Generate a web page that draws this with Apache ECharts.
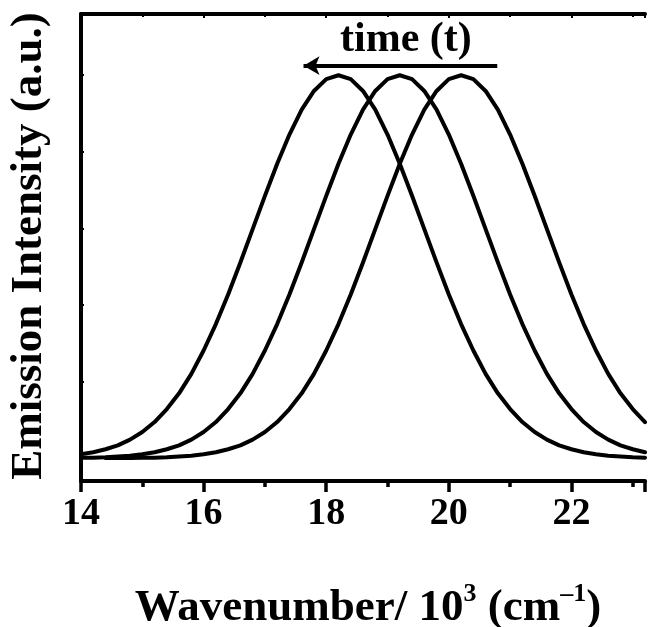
<!DOCTYPE html>
<html>
<head>
<meta charset="utf-8">
<script src="https://cdn.jsdelivr.net/npm/echarts@6/dist/echarts.min.js"></script>
<style>html,body{margin:0;padding:0;background:#fff}#c{width:648px;height:627px}</style>
</head>
<body>
<div id="c"></div>
<script>
// Wavenumber (10^3 cm^-1)
const xValues = [14.0,14.2,14.4,14.6,14.8,15.0,15.2,15.4,15.6,15.8,16.0,16.2,16.4,16.6,16.8,17.0,17.2,17.4,17.6,17.8,18.0,18.2,18.4,18.6,18.8,19.0,19.2,19.4,19.6,19.8,20.0,20.2,20.4,20.6,20.8,21.0,21.2,21.4,21.6,21.8,22.0,22.2,22.4,22.6,22.8,23.0,23.2];
// Emission intensity (a.u.) of the three spectra (peak shifts to lower wavenumber with time)
const spectrumLate = [0.010,0.015,0.023,0.033,0.048,0.068,0.094,0.128,0.169,0.220,0.281,0.350,0.427,0.511,0.598,0.685,0.769,0.845,0.910,0.959,0.990,1.000,0.990,0.959,0.910,0.845,0.769,0.685,0.598,0.511,0.427,0.350,0.281,0.220,0.169,0.128,0.094,0.068,0.048,0.033,0.023,0.015,0.010,0.006,0.004,0.002,0.001];
const spectrumMid = [0.001,0.001,0.002,0.004,0.006,0.010,0.015,0.023,0.033,0.048,0.068,0.094,0.128,0.169,0.220,0.281,0.350,0.427,0.511,0.598,0.685,0.769,0.845,0.910,0.959,0.990,1.000,0.990,0.959,0.910,0.845,0.769,0.685,0.598,0.511,0.427,0.350,0.281,0.220,0.169,0.128,0.094,0.068,0.048,0.033,0.023,0.015];
const spectrumEarly = [null,null,0.000,0.000,0.000,0.001,0.001,0.002,0.004,0.006,0.010,0.015,0.023,0.033,0.048,0.068,0.094,0.128,0.169,0.220,0.281,0.350,0.427,0.511,0.598,0.685,0.769,0.845,0.910,0.959,0.990,1.000,0.990,0.959,0.910,0.845,0.769,0.685,0.598,0.511,0.427,0.350,0.281,0.220,0.169,0.128,0.094];
const xTickLabels = [14,16,18,20,22];
// annotation arrow (data coords): from right to left
const arrowFrom = [20.79, 1.025];
const arrowTo = [17.63, 1.025];

const FONT = '"Liberation Serif", "Times New Roman", serif';
const zip = (xs, ys) => xs.map((x, i) => [x, ys[i]]);

const chart = echarts.init(document.getElementById('c'), null, {renderer: 'canvas'});
const lineStyle = {color: '#000', width: 4, join: 'round', cap: 'round'};
const mkSeries = (data) => ({
  type: 'line', data: data, showSymbol: false, symbol: 'none', smooth: false,
  connectNulls: false, lineStyle: lineStyle, silent: true, z: 3
});
const s0 = mkSeries(zip(xValues, spectrumLate));
s0.markLine = {
  silent: true, symbol: ['none', 'arrow'], symbolSize: [14, 16],
  lineStyle: {color: '#000', width: 4, type: 'solid'},
  label: {show: false},
  data: [[{coord: arrowFrom}, {coord: arrowTo}]]
};

chart.setOption({
  animation: false,
  backgroundColor: '#fff',
  grid: {left: 81, top: 14, right: -4, bottom: 146, containLabel: false},
  xAxis: [{
    type: 'value', min: 14, max: 23.2, interval: 2, position: 'bottom',
    axisLine: {onZero: false, lineStyle: {color: '#000', width: 4}},
    axisTick: {inside: false, length: 11, lineStyle: {color: '#000', width: 3.5}},
    minorTick: {show: true, splitNumber: 2, length: 6, lineStyle: {color: '#000', width: 3.5}},
    splitLine: {show: false}, minorSplitLine: {show: false},
    axisLabel: {
      margin: 14, color: '#000', fontFamily: FONT, fontWeight: 'bold', fontSize: 38,
      formatter: v => xTickLabels.indexOf(Math.round(v * 1000) / 1000) >= 0 ? String(v) : ''
    }
  }, {
    type: 'value', min: 14, max: 23.2, interval: 2, position: 'top',
    axisLine: {onZero: false, lineStyle: {color: '#000', width: 4}},
    axisTick: {inside: true, length: 4, lineStyle: {color: '#000', width: 2}},
    minorTick: {show: true, splitNumber: 2, length: 3, lineStyle: {color: '#000', width: 2}},
    splitLine: {show: false}, axisLabel: {show: false}
  }],
  yAxis: {
    type: 'value', min: -0.06, max: 1.16,
    axisLine: {show: true, onZero: false, lineStyle: {color: '#000', width: 4}},
    axisTick: {show: true, inside: true, length: 3, lineStyle: {color: '#000', width: 2}},
    splitLine: {show: false}, axisLabel: {show: false}
  },
  series: [s0, mkSeries(zip(xValues, spectrumMid)), mkSeries(zip(xValues, spectrumEarly))],
  graphic: [{
    type: 'text', left: 340, top: 19, z: 10,
    style: {text: 'time (t)', fill: '#000', font: 'bold 42px ' + FONT}
  }, {
    type: 'text', x: 29, y: 246, rotation: Math.PI / 2, z: 10,
    style: {text: 'Emission Intensity (a.u.)', fill: '#000', font: 'bold 45px ' + FONT,
      align: 'center', verticalAlign: 'middle'}
  }, {
    type: 'text', x: 368, y: 606, z: 10,
    style: {
      text: '{a|Wavenumber/ 10}{s|3}{a| (cm}{s|\u20131}{a|)}',
      align: 'center', verticalAlign: 'middle',
      rich: {
        a: {fontFamily: FONT, fontWeight: 'bold', fontSize: 45, fill: '#000', color: '#000', lineHeight: 50, verticalAlign: 'bottom'},
        s: {fontFamily: FONT, fontWeight: 'bold', fontSize: 26, fill: '#000', color: '#000', lineHeight: 50, verticalAlign: 'top', padding: [0, 0, 0, 0]}
      }
    }
  }]
});
</script>
</body>
</html>
